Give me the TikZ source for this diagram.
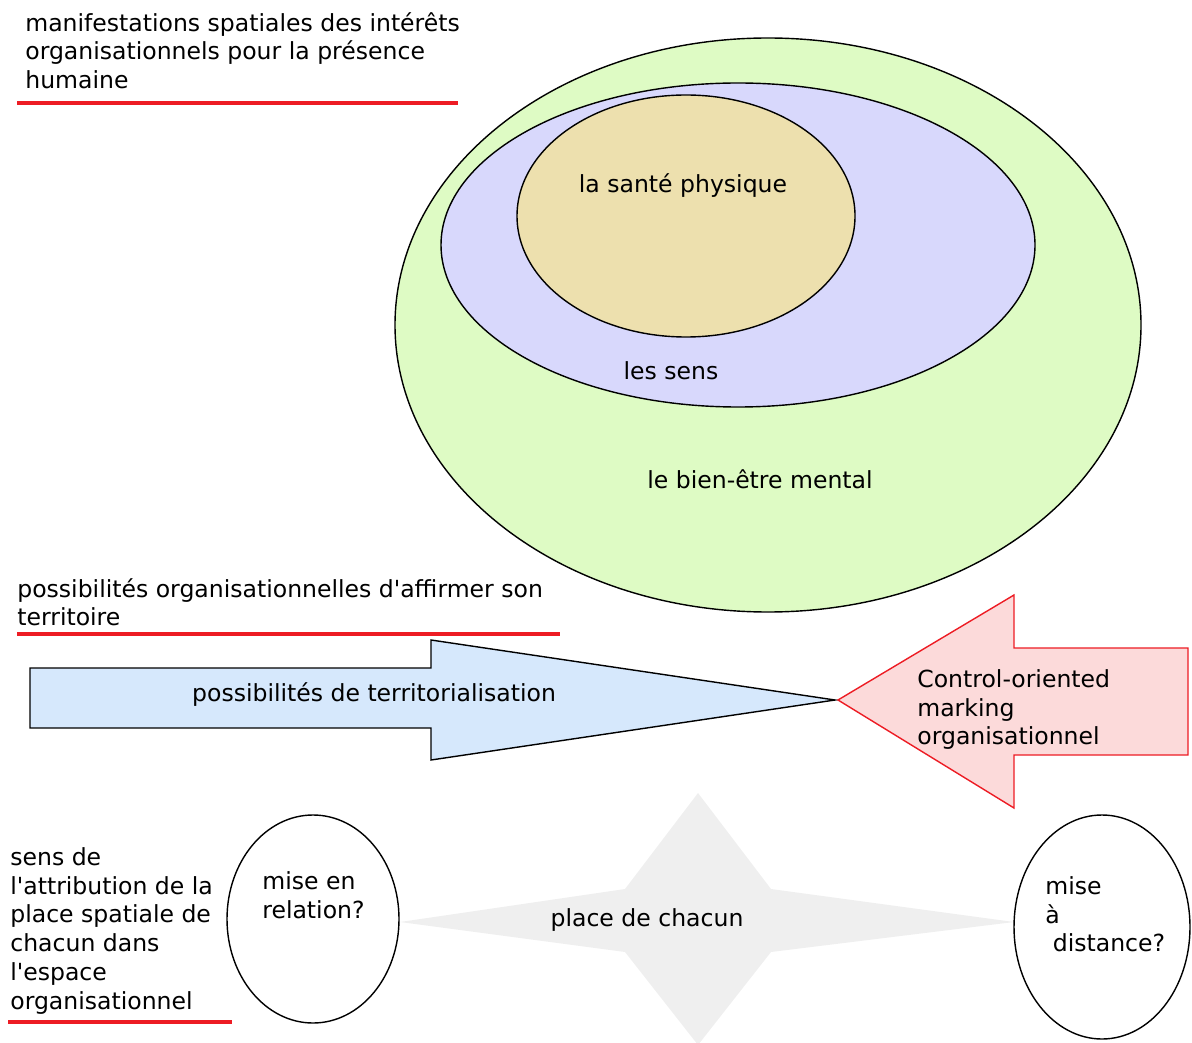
\documentclass[tikz,border=0pt]{standalone}
\usepackage{fontspec}
\setmainfont{DejaVu Sans}[Ligatures=TeXOff]
\definecolor{mentalgreen}{RGB}{222,251,196}
\definecolor{sensviolet}{RGB}{216,216,252}
\definecolor{santetan}{RGB}{237,224,174}
\definecolor{terrblue}{RGB}{214,232,252}
\definecolor{markpink}{RGB}{252,218,218}
\definecolor{placegray}{RGB}{239,239,239}
\definecolor{ulred}{RGB}{237,28,36}

\begin{document}
\begin{tikzpicture}[x=0.02cm,y=-0.02cm,
		lbl/.style={font=\fontsize{13.4}{16.4}\selectfont,inner sep=0pt,align=left},
		outline/.style={draw=black,line width=0.8pt},
		redline/.style={draw=ulred,line width=2.4pt}]
			\path[use as bounding box] (0,0) rectangle (1192,1043);
			\clip (0,0) rectangle (1192,1043);
			\filldraw[outline,fill=mentalgreen] (768,325) ellipse (373 and 287);
			\filldraw[outline,fill=sensviolet] (738,245) ellipse (297 and 162);
			\filldraw[outline,fill=santetan] (686,216) ellipse (169 and 121);
			\node[lbl] (sante) at (683,186) {la santé physique};
			\node[lbl] (sens) at (671,371) {les sens};
			\node[lbl] (mental) at (760,479) {le bien-être mental};
			\node[lbl,anchor=north west] (interets) at (25,12) {manifestations spatiales des intérêts\\organisationnels pour la présence\\humaine};
			\draw[redline] (17,103) -- (458,103);
			\node[lbl,anchor=north west] (affirmer) at (17,578) {possibilités organisationnelles d'affirmer son\\territoire};
			\draw[redline] (17,634) -- (560,634);
			\filldraw[outline,fill=terrblue] (30,668) -- (431,668) -- (431,640) -- (835,700) -- (431,760) -- (431,728) -- (30,728) -- cycle;
			\filldraw[draw=ulred,line width=0.8pt,fill=markpink] (1188,648) -- (1014,648) -- (1014,595) -- (838,700) -- (1014,808) -- (1014,755) -- (1188,755) -- cycle;
			\node[lbl] (territ) at (374,695) {possibilités de territorialisation};
			\node[lbl,anchor=north west] (marking) at (917,669) {Control-oriented\\marking\\organisationnel};
			\fill[placegray] (698,793) -- (771,889) -- (1014,922) -- (771,952) -- (698,1045) -- (625,952) -- (400,922) -- (625,889) -- cycle;
			\node[lbl] (place) at (647,920) {place de chacun};
			\draw[outline] (313,919) ellipse (86 and 104);
			\draw[outline] (1102,927) ellipse (88 and 112);
			\node[lbl,anchor=north west] (relation) at (262,871) {mise en\\relation?};
			\node[lbl,anchor=north west] (distance) at (1045,876) {mise\\à\\\ distance?};
			\node[lbl,anchor=north west] (attribution) at (10,847) {sens de\\l'attribution de la\\place spatiale de\\chacun dans\\l'espace\\organisationnel};
			\draw[redline] (8,1022) -- (232,1022);
		\end{tikzpicture}
\end{document}
